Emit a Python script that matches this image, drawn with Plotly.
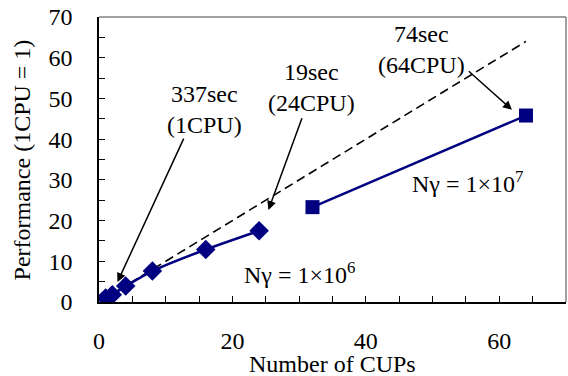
import plotly.graph_objects as go

# Data
cpus_1e6 = [1, 2, 4, 8, 16, 24]
perf_1e6 = [1.0, 1.8, 3.9, 7.6, 12.9, 17.5]
cpus_1e7 = [32, 64]
perf_1e7 = [23.3, 45.8]
cpus_ideal = [1, 2, 4, 8, 16, 24, 32, 64]
perf_ideal = [1, 2, 4, 8, 16, 24, 32, 64]

NAVY = "#000080"
FONT = "Liberation Serif, Times New Roman, serif"
FS = 24

fig = go.Figure()
fig.add_trace(go.Scatter(x=cpus_ideal, y=perf_ideal, mode="lines",
                         line=dict(color="black", width=1.6, dash="9px,5px"),
                         showlegend=False))
fig.add_trace(go.Scatter(x=cpus_1e6, y=perf_1e6, mode="lines+markers",
                         line=dict(color=NAVY, width=2.5, shape="spline", smoothing=0.6),
                         marker=dict(symbol="diamond", size=15, color=NAVY),
                         showlegend=False))
fig.add_trace(go.Scatter(x=cpus_1e7, y=perf_1e7, mode="lines+markers",
                         line=dict(color=NAVY, width=2.5),
                         marker=dict(symbol="square", size=14, color=NAVY),
                         showlegend=False))

tf = dict(family=FONT, size=FS, color="black")
texts = [
    (15.8, 47.4, "337sec<br>(1CPU)"),
    (31.8, 52.8, "19sec<br>(24CPU)"),
    (48.3, 61.9, "74sec<br>(64CPU)"),
    (30.0, 7.1, "N&#947; = 1×10<sup>6</sup>"),
    (55.2, 29.5, "N&#947; = 1×10<sup>7</sup>"),
]
for x, y, t in texts:
    fig.add_annotation(x=x, y=y, text=t, showarrow=False, font=tf,
                       xanchor="center", yanchor="middle")

arrows = [
    ((2.77, 4.9), (12.8, 40.5)),
    ((25.4, 22.6), (30.5, 45.5)),
    ((61.9, 47.2), (55.2, 57.0)),
]
for (tx, ty), (sx, sy) in arrows:
    fig.add_annotation(x=tx, y=ty, ax=sx, ay=sy, axref="x", ayref="y",
                       text="", showarrow=True, arrowhead=2, arrowsize=1.2,
                       arrowwidth=1.5, arrowcolor="black")

# axis titles
fig.add_annotation(xref="paper", yref="paper", x=0.5, y=-0.218, text="Number of CUPs",
                   showarrow=False, font=tf, xanchor="center", yanchor="middle")
fig.add_annotation(xref="paper", yref="paper", x=-0.165, y=0.5, text="Performance (1CPU = 1)",
                   showarrow=False, font=tf, textangle=-90, xanchor="center", yanchor="middle")

# gray top/right frame
fig.add_shape(type="line", xref="paper", yref="paper", x0=0, x1=1, y0=1, y1=1,
              line=dict(color="#808080", width=1.5))
fig.add_shape(type="line", xref="paper", yref="paper", x0=1, x1=1, y0=0, y1=1,
              line=dict(color="#808080", width=1.5))

fig.update_layout(
    width=568, height=376,
    margin=dict(l=99, r=2, t=17, b=74, autoexpand=False),
    paper_bgcolor="white", plot_bgcolor="white",
    font=dict(family=FONT, size=FS, color="black"),
    xaxis=dict(range=[0, 70], dtick=20, tick0=0, showgrid=False, zeroline=False,
               showline=True, linecolor="black", linewidth=1.5, automargin=False,
               ticks="inside", ticklen=6, tickcolor="black",
               minor=dict(dtick=5, ticks="inside", ticklen=6, tickcolor="black"),
               ticklabelstandoff=16, tickfont=tf),
    yaxis=dict(range=[0, 70], dtick=10, tick0=0, showgrid=False, zeroline=False,
               showline=True, linecolor="black", linewidth=1.5, automargin=False,
               ticks="inside", ticklen=6, tickcolor="black",
               minor=dict(dtick=5, ticks="inside", ticklen=6, tickcolor="black"),
               ticklabelstandoff=20, tickfont=tf),
)

fig.write_html("out.html", config={"displayModeBar": False},
               post_script="document.body.style.margin='0';document.body.style.padding='0';document.body.style.overflow='hidden';")
